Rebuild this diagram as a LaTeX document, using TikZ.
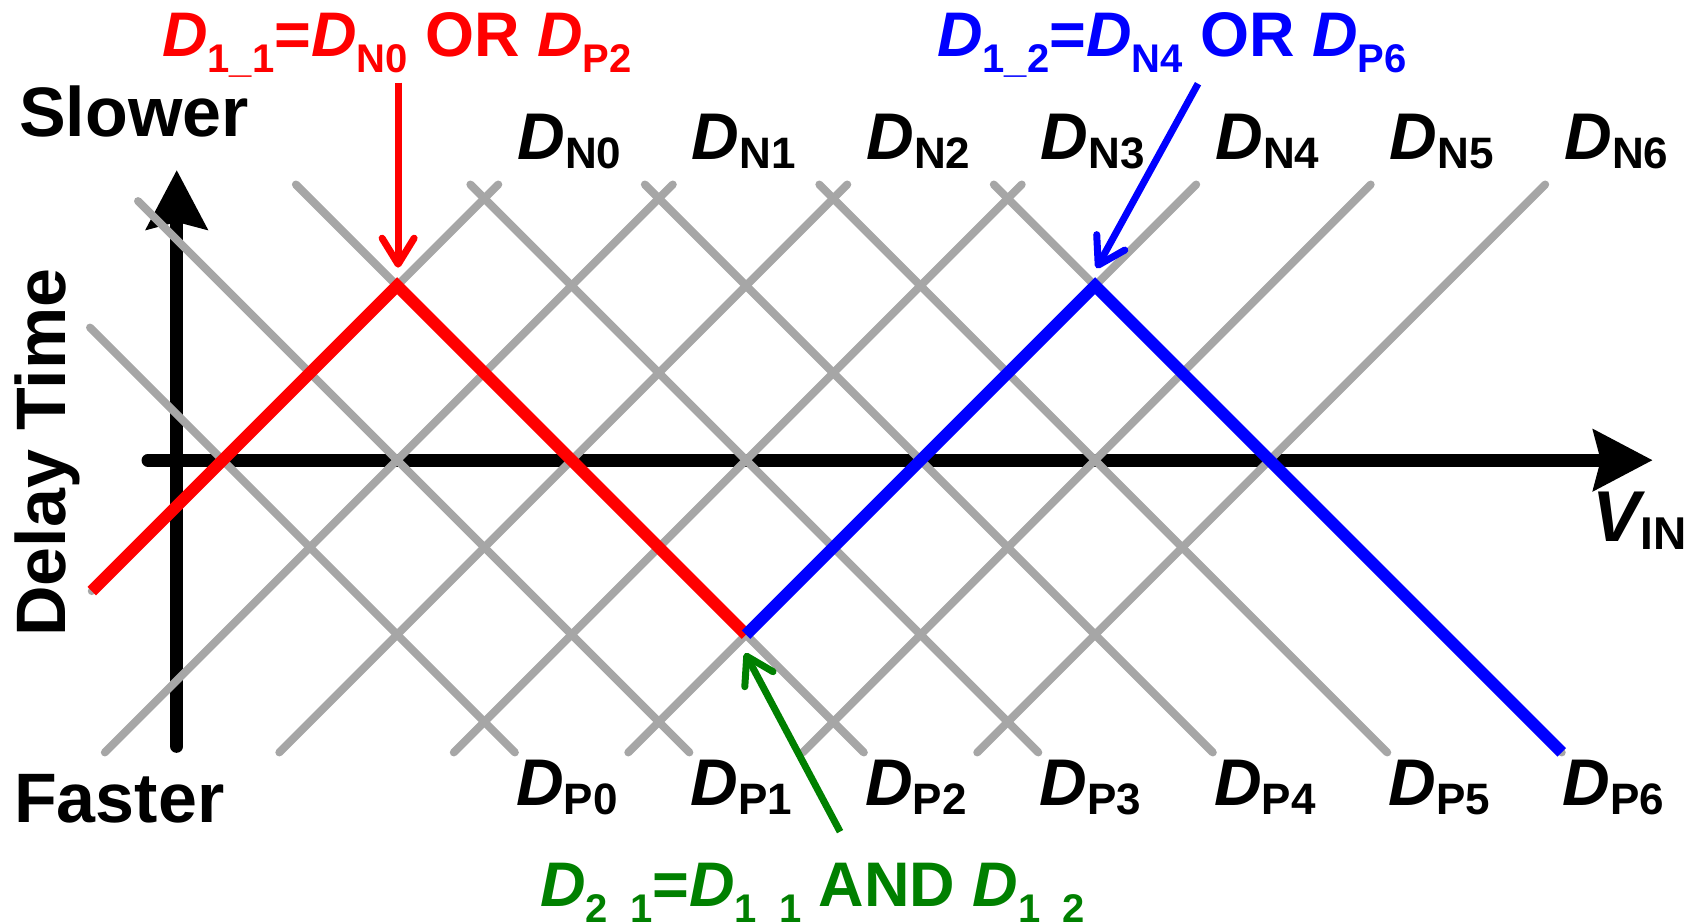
\documentclass[tikz,border=0pt]{standalone}
\usepackage{fontspec}
\setmainfont{Liberation Sans}
\usetikzlibrary{arrows.meta,calc}
\definecolor{lat}{RGB}{166,166,166}
\definecolor{dgreen}{RGB}{0,128,0}
\newcommand\LabD[1]{{\itshape D}\raisebox{-9pt}{\fontsize{44}{44}\selectfont #1}}
\newcommand\TitD[1]{{\itshape D}\raisebox{-16pt}{\fontsize{40}{40}\selectfont #1}}
\begin{document}
\begin{tikzpicture}[x=87.24pt,y=87.24pt,
  latline/.style={draw=lat,line width=8pt,line cap=round},
  axisline/.style={draw=black,line width=13pt,line cap=round,-{Stealth[length=59pt,width=60pt,inset=7pt]}},
  hiline/.style={line width=12pt,line join=miter},
  callout/.style={line width=7pt,-{Straight Barb[length=26pt,width=32pt,round]}},
  lab/.style={inner sep=0pt,anchor=base west,font=\bfseries\fontsize{66}{66}\selectfont},
  big/.style={inner sep=0pt,anchor=base west,font=\bfseries\fontsize{70}{70}\selectfont},
  ttl/.style={inner sep=0pt,anchor=base west,font=\bfseries\fontsize{63}{63}\selectfont},
]
\path[use as bounding box] (-2.552,-5.316) rectangle (16.866,5.275);
\coordinate (TL) at (-2.552,5.275);

% axes
\coordinate (hstart) at (-0.855,0);
\coordinate (hend) at (16.393,0);
\coordinate (vstart) at (-0.526,-3.28);
\coordinate (vend) at (-0.526,3.327);
\draw[axisline] (hstart) -- (hend);
\draw[axisline] (vstart) -- (vend);

% lattice: D_N lines (Y = X - 2k)
\coordinate (n0bot) at (-1.5,-1.5);
\foreach \k in {1,...,6}{\coordinate (n\k bot) at ({2*\k-3.35},-3.35);}
\foreach \k in {0,...,6}{\coordinate (n\k top) at ({2*\k+3.16},3.16);}
% D_P lines (X + Y = 2k)
\coordinate (p0top) at (-1.52,1.52);
\coordinate (p1top) at (-0.97,2.97);
\foreach \k in {2,...,6}{\coordinate (p\k top) at ({2*\k-3.16},3.16);}
\foreach \k in {0,...,6}{\coordinate (p\k bot) at ({2*\k+3.35},-3.35);}
\foreach \k in {0,...,6}{
  \draw[latline] (n\k bot) -- (n\k top);
  \draw[latline] (p\k top) -- (p\k bot);
}

% highlighted paths
\coordinate (pkA) at (2,2);
\coordinate (tr) at (6,-2);
\coordinate (pkB) at (10,2);
\draw[hiline,red] (n0bot) -- (pkA) -- (tr);
\draw[hiline,blue] (tr) -- (pkB) -- (p6bot);

% labels
\foreach \k in {0,...,6}{
  \node[lab] (LN\k) at ([shift={(19pt,25pt)}]n\k top) {\LabD{N\k}};
  \node[lab] (LP\k) at ([shift={(1pt,-53pt)}]p\k bot) {\LabD{P\k}};
}

\node[big] (slower) at ([shift={(19pt,-137pt)}]TL) {Slower};
\node[big] (faster) at ([shift={(14pt,-823pt)}]TL) {Faster};
\node[big,rotate=90] (delay) at ([shift={(66pt,-637pt)}]TL) {Delay Time};
\node[inner sep=0pt,anchor=base west,font=\bfseries\fontsize{72}{72}\selectfont] (vin) at ([shift={(1592pt,-542pt)}]TL) {{\itshape V}\raisebox{-8pt}{\fontsize{46}{46}\selectfont IN}};

% titles
\node[ttl,text=red] (t1) at ([shift={(162pt,-57pt)}]TL) {\TitD{1\_1}=\TitD{N0} OR \TitD{P2}};
\node[ttl,text=blue] (t2) at ([shift={(937pt,-57pt)}]TL) {\TitD{1\_2}=\TitD{N4} OR \TitD{P6}};
\node[ttl,text=dgreen] (t3) at ([shift={(540pt,-907pt)}]TL) {\TitD{2\_1}=\TitD{1\_1} AND \TitD{1\_2}};

% callout arrows
\coordinate (aS) at ([shift={(1pt,203pt)}]pkA);
\coordinate (aT) at ([shift={(1pt,18pt)}]pkA);
\coordinate (bS) at ([shift={(103pt,202pt)}]pkB);
\coordinate (bT) at ([shift={(1.5pt,17.5pt)}]pkB);
\coordinate (gS) at ([shift={(94pt,-197pt)}]tr);
\coordinate (gT) at ([shift={(-1pt,-18.5pt)}]tr);
\draw[callout,red] (aS) -- (aT);
\draw[callout,blue] (bS) -- (bT);
\draw[callout,dgreen] (gS) -- (gT);
\end{tikzpicture}
\end{document}
